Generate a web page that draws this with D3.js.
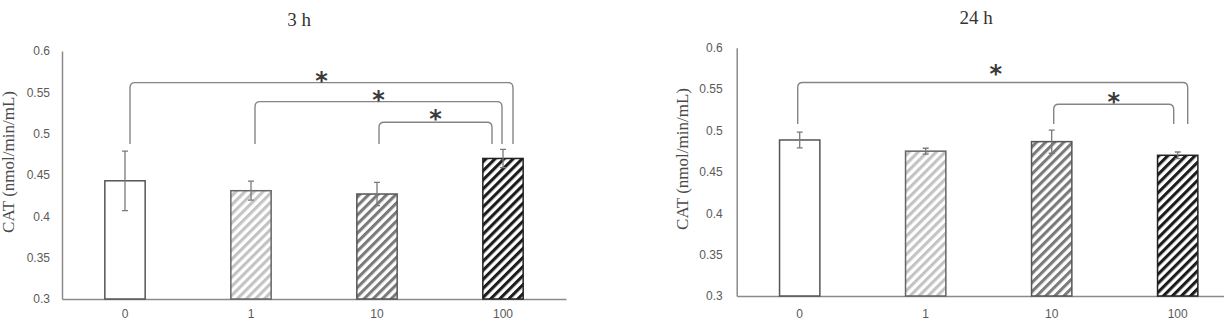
<!DOCTYPE html>
<html>
<head>
<meta charset="utf-8">
<script src="https://cdn.jsdelivr.net/npm/d3@7"></script>
<style>
  body { margin: 0; background: #fff; }
  svg { display: block; }
</style>
</head>
<body>
<svg id="chart" width="1224" height="320"></svg>
<script>
// ---- data ----
const categories = ["0", "1", "10", "100"];
const means3h = [0.443, 0.431, 0.427, 0.470];
const errors3h = [0.036, 0.0115, 0.014, 0.011];
const means24h = [0.4885, 0.475, 0.4865, 0.470];
const errors24h = [0.0095, 0.0035, 0.014, 0.004];
const yTicks = [0.3, 0.35, 0.4, 0.45, 0.5, 0.55, 0.6];
const yTickLabels = ["0.3", "0.35", "0.4", "0.45", "0.5", "0.55", "0.6"];
const yDomain = [0.3, 0.6];
// significance brackets: [fromCategory, toCategory, bracketLevel, legBottomLevel]
const brackets3h = [["0", "100", 0.5617, 0.4875], ["1", "100", 0.5387, 0.4875], ["10", "100", 0.5138, 0.4875]];
const brackets24h = [["0", "100", 0.558, 0.5078], ["10", "100", 0.5316, 0.5078]];
const titles = ["3 h", "24 h"];
const yLabel = "CAT (nmol/min/mL)";

// ---- styling ----
const stripeColors = [null, "#c3c3c3", "#7a7a7a", "#1c1c1c"];
const outlineColors = ["#555", "#666", "#555", "#222"];
const axisColor = "#8a8a8a";
const svg = d3.select("#chart");

const defs = svg.append("defs");
stripeColors.forEach((c, i) => {
  if (!c) return;
  const p = defs.append("pattern")
    .attr("id", "hatch" + i)
    .attr("patternUnits", "userSpaceOnUse")
    .attr("width", 6.4).attr("height", 6.4)
    .attr("patternTransform", "rotate(45)");
  p.append("rect").attr("width", 6.4).attr("height", 6.4).attr("fill", "#fff");
  p.append("rect").attr("x", 0).attr("y", 0).attr("width", 3.1).attr("height", 6.4).attr("fill", c);
});

function panel(cfg) {
  const x = d3.scaleBand().domain(categories).range(cfg.xRange).paddingInner(0.68).paddingOuter(0.34);
  const y = d3.scaleLinear().domain(yDomain).range(cfg.yRange);
  const g = svg.append("g");

  // y axis
  const ya = g.append("g").attr("transform", `translate(${cfg.xRange[0]},0)`)
    .call(d3.axisLeft(y).tickValues(yTicks).tickFormat((d, i) => yTickLabels[i]).tickSize(0).tickPadding(cfg.tickPad));
  ya.select(".domain").attr("stroke", axisColor).attr("stroke-width", 1.5);
  ya.selectAll("text").attr("font-family", "Liberation Sans, Arial, sans-serif").attr("font-size", 12).attr("fill", "#5a5a5a");

  // x axis
  const xa = g.append("g").attr("transform", `translate(0,${cfg.yRange[0]})`)
    .call(d3.axisBottom(x).tickSize(0).tickPadding(cfg.xPad).tickSizeOuter(0));
  xa.select(".domain").attr("stroke", axisColor).attr("stroke-width", 1.5);
  xa.selectAll("text").attr("font-family", "Liberation Sans, Arial, sans-serif").attr("font-size", 12).attr("fill", "#5a5a5a");

  // bars
  g.selectAll("rect.bar").data(cfg.means).join("rect").attr("class", "bar")
    .attr("x", (d, i) => x(categories[i]))
    .attr("width", x.bandwidth())
    .attr("y", d => y(d))
    .attr("height", d => y(yDomain[0]) - y(d))
    .attr("fill", (d, i) => stripeColors[i] ? `url(#hatch${i})` : "#fff")
    .attr("stroke", (d, i) => outlineColors[i])
    .attr("stroke-width", 1.5);

  // error bars
  const cx = i => x(categories[i]) + x.bandwidth() / 2;
  const eb = g.append("g").attr("stroke", "#7a7a7a").attr("stroke-width", 1.3).attr("fill", "none");
  cfg.means.forEach((m, i) => {
    const e = cfg.errors[i];
    eb.append("path").attr("d",
      `M${cx(i)},${y(m + e)}V${y(m - e)}` +
      `M${cx(i) - 3},${y(m + e)}H${cx(i) + 3}` +
      `M${cx(i) - 3},${y(m - e)}H${cx(i) + 3}`);
  });

  // brackets
  const bg = g.append("g");
  cfg.brackets.forEach((b, k) => {
    const x1 = x(b[0]) + x.bandwidth() / 2 + cfg.leftOff[k];
    const x2 = x(b[1]) + x.bandwidth() / 2 + cfg.rightOff[k];
    const yh = y(b[2]), yb = y(b[3]), r = 5;
    bg.append("path")
      .attr("d", `M${x1},${yb}L${x1},${yh + r}Q${x1},${yh} ${x1 + r},${yh}L${x2 - r},${yh}Q${x2},${yh} ${x2},${yh + r}L${x2},${yb}`)
      .attr("fill", "none").attr("stroke", "#858585").attr("stroke-width", 1.4);
    bg.append("text")
      .attr("x", (x1 + x2) / 2 + cfg.starDx[k])
      .attr("y", yh - cfg.starDy[k] + 14)
      .attr("text-anchor", "middle")
      .attr("font-family", "DejaVu Sans, sans-serif")
      .attr("font-weight", "bold")
      .attr("font-size", 24)
      .attr("fill", "#3a3a3a")
      .text("*");
  });

  // title
  svg.append("text").attr("x", cfg.titlePos[0]).attr("y", cfg.titlePos[1])
    .attr("text-anchor", "middle")
    .attr("font-family", "Liberation Serif, Times New Roman, serif")
    .attr("font-size", 19).attr("fill", "#333")
    .text(cfg.title);

  // y label
  svg.append("text")
    .attr("transform", `translate(${cfg.yLabelPos[0]},${cfg.yLabelPos[1]}) rotate(-90)`)
    .attr("text-anchor", "middle")
    .attr("font-family", "Liberation Serif, Times New Roman, serif")
    .attr("font-size", 17).attr("fill", "#4a4a4a")
    .text(yLabel);
}

panel({
  xRange: [62, 566], yRange: [299, 51], tickPad: 12, xPad: 10,
  means: means3h, errors: errors3h, brackets: brackets3h,
  leftOff: [5, 4, 2], rightOff: [10, -1, -11], starDx: [0, 0, 0], starDy: [8, 8, 9],
  title: titles[0], titlePos: [299, 26], yLabelPos: [14, 162]
});
panel({
  xRange: [736.7, 1240.7], yRange: [296, 47.7], tickPad: 14, xPad: 13,
  means: means24h, errors: errors24h, brackets: brackets24h,
  leftOff: [-2, 2], rightOff: [10, -4], starDx: [3, 0], starDy: [14, 8],
  title: titles[1], titlePos: [976, 24], yLabelPos: [688, 159]
});
</script>
</body>
</html>
